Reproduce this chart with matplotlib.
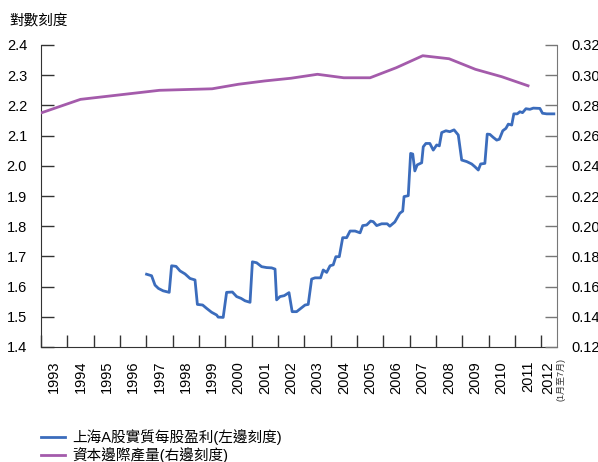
import matplotlib
matplotlib.use('Agg')
import matplotlib.pyplot as plt
import numpy as np

plt.rcParams['font.family'] = ['Liberation Sans', 'Noto Sans CJK TC', 'DejaVu Sans']

# 上海A股實質每股盈利 (左邊刻度), 讀圖估計 (年份, 數值)
eps_year = [1997.01, 1997.20, 1997.33, 1997.46, 1997.64, 1997.87, 1997.96, 1998.13, 1998.28, 1998.47,
            1998.66, 1998.85, 1998.94, 1999.14, 1999.29, 1999.48, 1999.67, 1999.73, 1999.92, 2000.05,
            2000.27, 2000.43, 2000.60, 2000.75, 2000.94, 2001.03, 2001.19, 2001.38, 2001.57, 2001.76,
            2001.89, 2001.95, 2002.08, 2002.24, 2002.42, 2002.54, 2002.71, 2002.87, 2003.03, 2003.15,
            2003.28, 2003.41, 2003.62, 2003.72, 2003.85, 2003.98, 2004.10, 2004.20, 2004.33, 2004.46,
            2004.61, 2004.74, 2004.93, 2005.12, 2005.22, 2005.37, 2005.52, 2005.62, 2005.75, 2005.94,
            2006.15, 2006.25, 2006.44, 2006.63, 2006.74, 2006.79, 2006.95, 2007.04, 2007.12, 2007.20,
            2007.29, 2007.46, 2007.52, 2007.62, 2007.77, 2007.90, 2008.03, 2008.13, 2008.22, 2008.38,
            2008.53, 2008.69, 2008.85, 2008.98, 2009.17, 2009.36, 2009.48, 2009.61, 2009.70, 2009.86,
            2009.95, 2010.05, 2010.18, 2010.31, 2010.41, 2010.54, 2010.66, 2010.75, 2010.88, 2010.96,
            2011.09, 2011.19, 2011.29, 2011.42, 2011.57, 2011.70, 2011.95, 2012.05, 2012.21, 2012.48]
eps_val = [1.641, 1.636, 1.605, 1.594, 1.586, 1.581, 1.669, 1.667, 1.652, 1.642,
           1.627, 1.622, 1.541, 1.539, 1.528, 1.515, 1.506, 1.499, 1.498, 1.581,
           1.582, 1.567, 1.561, 1.553, 1.548, 1.682, 1.679, 1.666, 1.663, 1.662,
           1.658, 1.556, 1.567, 1.570, 1.580, 1.517, 1.517, 1.528, 1.539, 1.541,
           1.625, 1.629, 1.629, 1.655, 1.647, 1.669, 1.672, 1.699, 1.699, 1.762,
           1.762, 1.784, 1.784, 1.778, 1.802, 1.804, 1.817, 1.815, 1.802, 1.808,
           1.808, 1.800, 1.814, 1.843, 1.850, 1.898, 1.901, 2.041, 2.039, 1.983,
           2.003, 2.010, 2.063, 2.074, 2.074, 2.052, 2.069, 2.066, 2.110, 2.116,
           2.113, 2.119, 2.102, 2.019, 2.014, 2.006, 1.997, 1.986, 2.006, 2.008,
           2.105, 2.104, 2.094, 2.085, 2.088, 2.116, 2.124, 2.138, 2.135, 2.172,
           2.172, 2.179, 2.176, 2.189, 2.187, 2.191, 2.190, 2.174, 2.172, 2.172]

# 資本邊際產量 (右邊刻度), 年中數值
mpk_year = [1992.5, 1994.5, 1995.5, 1996.5, 1997.5, 1998.5, 1999.5, 2000.5, 2001.5, 2002.5,
            2003.5, 2004.5, 2005.5, 2006.5, 2007.5, 2008.5, 2009.5, 2010.5, 2011.5]
mpk_val = [0.272, 0.284, 0.286, 0.288, 0.290, 0.2905, 0.291, 0.294, 0.2962, 0.2980,
           0.3006, 0.2983, 0.2983, 0.3050, 0.3129, 0.3109, 0.3039, 0.2990, 0.2930]

years = list(range(1993, 2012))
left_ticks = [1.4, 1.5, 1.6, 1.7, 1.8, 1.9, 2.0, 2.1, 2.2, 2.3, 2.4]
right_ticks = [0.12, 0.14, 0.16, 0.18, 0.20, 0.22, 0.24, 0.26, 0.28, 0.30, 0.32]

blue = '#3b6cbc'
purple = '#a45bab'

fig = plt.figure(figsize=(5.98, 4.62), dpi=100)
ax = fig.add_axes([41/598, 1-347/462, 516/598, 302/462])
ax2 = ax.twinx()

l1, = ax.plot(eps_year, eps_val, color=blue, lw=2.0, solid_joinstyle='round')
l2, = ax2.plot(mpk_year, mpk_val, color=purple, lw=2.0, solid_joinstyle='round')

ax.set_xlim(1993, 2012.6)
ax.set_ylim(1.4, 2.4)
ax2.set_ylim(0.12, 0.32)

ax.set_yticks(left_ticks)
ax.set_yticklabels(['%.1f' % v for v in left_ticks])
ax2.set_yticks(right_ticks)
ax2.set_yticklabels(['%.2f' % v for v in right_ticks])

ax.set_xticks(list(range(1993, 2013)))
ax.set_xticklabels([])
ax.set_xticks([y + 0.5 for y in years] + [2012.25], minor=True)
ax.set_xticklabels([str(y) for y in years] + ['2012'], minor=True, rotation=90, fontsize=10.5)
ax.tick_params(axis='x', which='major', direction='in', length=9, width=1, color='#333333')
ax.tick_params(axis='x', which='minor', length=0, pad=10)
ax.tick_params(axis='y', direction='in', length=9, width=1, color='#333333', labelsize=10.5, pad=10)
ax2.tick_params(axis='y', direction='in', length=9, width=1, color='#777777', labelsize=10.5, pad=10)

for s in ['top', 'right']:
    ax.spines[s].set_visible(False)
for s in ['top', 'left', 'bottom']:
    ax2.spines[s].set_visible(False)
ax.spines['left'].set_color('#333333')
ax.spines['bottom'].set_color('#333333')
ax2.spines['right'].set_color('#777777')

ax.text(2012.74, 1.365, '(1月至7月)', rotation=90, fontsize=6.5, ha='center', va='top',
        transform=ax.transData, color='#333333')

fig.text(9/598, 1-21/462, '對數刻度', fontsize=10.5, va='center', ha='left')

fig.legend([l1, l2], ['上海A股實質每股盈利(左邊刻度)', '資本邊際產量(右邊刻度)'],
           loc='upper left', bbox_to_anchor=(37/598, 1-425/462), frameon=False,
           fontsize=10.5, handlelength=1.6, handletextpad=0.5, labelspacing=0.15,
           borderaxespad=0.0, borderpad=0.3)

fig.savefig('out.png', dpi=100)
